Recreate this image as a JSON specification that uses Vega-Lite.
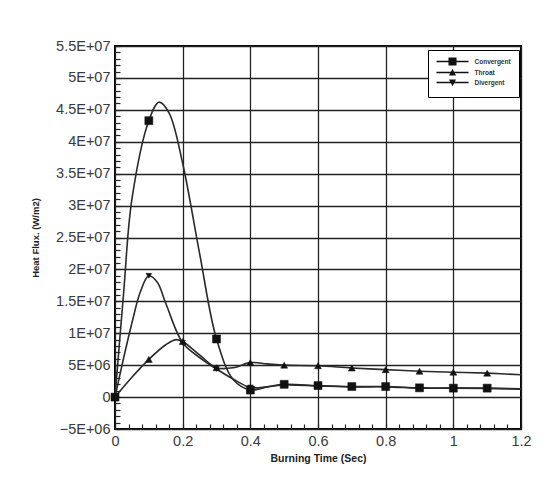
{
  "$schema": "https://vega.github.io/schema/vega-lite/v6.json",
  "width": 406,
  "height": 383,
  "autosize": "none",
  "padding": {"left": 115, "top": 46, "right": 28, "bottom": 74},
  "background": "white",
  "config": {
    "font": "Liberation Sans",
    "view": {"stroke": "#000", "strokeWidth": 2},
    "axis": {"domain": false, "labelColor": "#3a3a3a", "labelFontSize": 14.5, "titleColor": "#222", "titleFontWeight": "bold", "tickColor": "#222", "tickWidth": 1.2, "gridColor": "#222", "gridWidth": 1.3}
  },
  "datasets": {
    "curves": [
      {"series": "Convergent", "t": 0, "q": 0},
      {"series": "Convergent", "t": 0.025, "q": 16000000},
      {"series": "Convergent", "t": 0.05, "q": 31000000},
      {"series": "Convergent", "t": 0.1, "q": 43300000},
      {"series": "Convergent", "t": 0.13, "q": 46200000},
      {"series": "Convergent", "t": 0.16, "q": 44500000},
      {"series": "Convergent", "t": 0.2, "q": 36600000},
      {"series": "Convergent", "t": 0.25, "q": 22500000},
      {"series": "Convergent", "t": 0.3, "q": 9100000},
      {"series": "Convergent", "t": 0.35, "q": 2700000},
      {"series": "Convergent", "t": 0.4, "q": 1100000},
      {"series": "Convergent", "t": 0.45, "q": 1600000},
      {"series": "Convergent", "t": 0.5, "q": 2000000},
      {"series": "Convergent", "t": 0.6, "q": 1800000},
      {"series": "Convergent", "t": 0.7, "q": 1650000},
      {"series": "Convergent", "t": 0.8, "q": 1650000},
      {"series": "Convergent", "t": 0.9, "q": 1450000},
      {"series": "Convergent", "t": 1.0, "q": 1400000},
      {"series": "Convergent", "t": 1.1, "q": 1400000},
      {"series": "Convergent", "t": 1.2, "q": 1300000},
      {"series": "Throat", "t": 0, "q": 0},
      {"series": "Throat", "t": 0.05, "q": 3100000},
      {"series": "Throat", "t": 0.1, "q": 5900000},
      {"series": "Throat", "t": 0.15, "q": 8200000},
      {"series": "Throat", "t": 0.18, "q": 9000000},
      {"series": "Throat", "t": 0.2, "q": 8700000},
      {"series": "Throat", "t": 0.25, "q": 6600000},
      {"series": "Throat", "t": 0.3, "q": 4600000},
      {"series": "Throat", "t": 0.35, "q": 4600000},
      {"series": "Throat", "t": 0.4, "q": 5400000},
      {"series": "Throat", "t": 0.45, "q": 5200000},
      {"series": "Throat", "t": 0.5, "q": 5000000},
      {"series": "Throat", "t": 0.6, "q": 4900000},
      {"series": "Throat", "t": 0.7, "q": 4550000},
      {"series": "Throat", "t": 0.8, "q": 4300000},
      {"series": "Throat", "t": 0.9, "q": 4050000},
      {"series": "Throat", "t": 1.0, "q": 3900000},
      {"series": "Throat", "t": 1.1, "q": 3750000},
      {"series": "Throat", "t": 1.2, "q": 3500000},
      {"series": "Divergent", "t": 0, "q": 0},
      {"series": "Divergent", "t": 0.025, "q": 6000000},
      {"series": "Divergent", "t": 0.05, "q": 11600000},
      {"series": "Divergent", "t": 0.075, "q": 16500000},
      {"series": "Divergent", "t": 0.1, "q": 19000000},
      {"series": "Divergent", "t": 0.125, "q": 18000000},
      {"series": "Divergent", "t": 0.15, "q": 14700000},
      {"series": "Divergent", "t": 0.2, "q": 8500000},
      {"series": "Divergent", "t": 0.25, "q": 6200000},
      {"series": "Divergent", "t": 0.3, "q": 4400000},
      {"series": "Divergent", "t": 0.35, "q": 2800000},
      {"series": "Divergent", "t": 0.4, "q": 1500000},
      {"series": "Divergent", "t": 0.45, "q": 1600000},
      {"series": "Divergent", "t": 0.5, "q": 1900000},
      {"series": "Divergent", "t": 0.6, "q": 1750000},
      {"series": "Divergent", "t": 0.7, "q": 1600000},
      {"series": "Divergent", "t": 0.8, "q": 1600000},
      {"series": "Divergent", "t": 0.9, "q": 1400000},
      {"series": "Divergent", "t": 1.0, "q": 1400000},
      {"series": "Divergent", "t": 1.1, "q": 1350000},
      {"series": "Divergent", "t": 1.2, "q": 1250000}
    ],
    "markers": [
      {"series": "Divergent", "t": 0, "q": 0},
      {"series": "Divergent", "t": 0.1, "q": 19000000},
      {"series": "Divergent", "t": 0.2, "q": 8500000},
      {"series": "Divergent", "t": 0.3, "q": 4400000},
      {"series": "Divergent", "t": 0.4, "q": 1500000},
      {"series": "Divergent", "t": 0.5, "q": 1900000},
      {"series": "Divergent", "t": 0.6, "q": 1750000},
      {"series": "Divergent", "t": 0.7, "q": 1600000},
      {"series": "Divergent", "t": 0.8, "q": 1600000},
      {"series": "Divergent", "t": 0.9, "q": 1400000},
      {"series": "Divergent", "t": 1.0, "q": 1400000},
      {"series": "Divergent", "t": 1.1, "q": 1350000},
      {"series": "Throat", "t": 0, "q": 0},
      {"series": "Throat", "t": 0.1, "q": 5900000},
      {"series": "Throat", "t": 0.2, "q": 8700000},
      {"series": "Throat", "t": 0.3, "q": 4600000},
      {"series": "Throat", "t": 0.4, "q": 5400000},
      {"series": "Throat", "t": 0.5, "q": 5000000},
      {"series": "Throat", "t": 0.6, "q": 4900000},
      {"series": "Throat", "t": 0.7, "q": 4550000},
      {"series": "Throat", "t": 0.8, "q": 4300000},
      {"series": "Throat", "t": 0.9, "q": 4050000},
      {"series": "Throat", "t": 1.0, "q": 3900000},
      {"series": "Throat", "t": 1.1, "q": 3750000},
      {"series": "Convergent", "t": 0, "q": 0},
      {"series": "Convergent", "t": 0.1, "q": 43300000},
      {"series": "Convergent", "t": 0.3, "q": 9100000},
      {"series": "Convergent", "t": 0.4, "q": 1100000},
      {"series": "Convergent", "t": 0.5, "q": 2000000},
      {"series": "Convergent", "t": 0.6, "q": 1800000},
      {"series": "Convergent", "t": 0.7, "q": 1650000},
      {"series": "Convergent", "t": 0.8, "q": 1650000},
      {"series": "Convergent", "t": 0.9, "q": 1450000},
      {"series": "Convergent", "t": 1.0, "q": 1400000},
      {"series": "Convergent", "t": 1.1, "q": 1400000}
    ]
  },
  "encoding": {
    "x": {
      "field": "t", "type": "quantitative",
      "scale": {"domain": [0, 1.2], "nice": false, "zero": false},
      "axis": {
        "title": "Burning Time (Sec)",
        "titleFontSize": 10.5,
        "titlePadding": 6,
        "values": [0,0.04,0.08,0.12,0.16,0.2,0.24,0.28,0.32,0.36,0.4,0.44,0.48,0.52,0.56,0.6,0.64,0.68,0.72,0.76,0.8,0.84,0.88,0.92,0.96,1,1.04,1.08,1.12,1.16,1.2],
        "labelExpr": "abs(datum.value/0.2 - round(datum.value/0.2)) < 0.001 ? format(datum.value, '') : ''",
        "tickSize": -5,
        "labelPadding": 10,
        "labelFlush": false,
        "labelOverlap": false,
        "grid": true,
        "gridOpacity": {"condition": {"test": "abs(datum.value/0.2 - round(datum.value/0.2)) < 0.001", "value": 1}, "value": 0}
      }
    },
    "y": {
      "field": "q", "type": "quantitative",
      "scale": {"domain": [-5000000, 55000000], "nice": false, "zero": false},
      "axis": {
        "title": "Heat Flux. (W/m2)",
        "titleFontSize": 9.5,
        "titlePadding": 15,
        "values": [-5000000,-4000000,-3000000,-2000000,-1000000,0,1000000,2000000,3000000,4000000,5000000,6000000,7000000,8000000,9000000,10000000,11000000,12000000,13000000,14000000,15000000,16000000,17000000,18000000,19000000,20000000,21000000,22000000,23000000,24000000,25000000,26000000,27000000,28000000,29000000,30000000,31000000,32000000,33000000,34000000,35000000,36000000,37000000,38000000,39000000,40000000,41000000,42000000,43000000,44000000,45000000,46000000,47000000,48000000,49000000,50000000,51000000,52000000,53000000,54000000,55000000],
        "labelExpr": "datum.value % 5000000 !== 0 ? '' : (datum.value == 0 ? '0' : (abs(datum.value) >= 10000000 ? format(datum.value/10000000, '') + 'E+07' : format(datum.value/1000000, '') + 'E+06'))",
        "tickSize": -5,
        "labelPadding": 10,
        "labelFlush": false,
        "labelOverlap": false,
        "grid": true,
        "gridOpacity": {"condition": {"test": "datum.value % 5000000 === 0", "value": 1}, "value": 0}
      }
    }
  },
  "layer": [
    {
      "data": {"name": "curves"},
      "mark": {"type": "line", "interpolate": "catmull-rom", "stroke": "#2a2a2a", "strokeWidth": 1.6},
      "encoding": {"detail": {"field": "series"}, "order": {"field": "t", "type": "quantitative"}}
    },
    {
      "data": {"name": "markers"},
      "mark": {"type": "point", "filled": true, "fill": "#111", "stroke": "#111", "strokeWidth": 0.5, "opacity": 1},
      "encoding": {
        "shape": {"field": "series", "type": "nominal", "scale": {"domain": ["Convergent", "Throat", "Divergent"], "range": ["square", "triangle-up", "triangle-down"]}, "legend": null},
        "size": {"field": "series", "type": "nominal", "scale": {"domain": ["Convergent", "Throat", "Divergent"], "range": [64, 32, 32]}, "legend": null}
      }
    },
    {
      "data": {"name": "markers"},
      "mark": {"type": "point", "filled": true, "fill": "#111", "opacity": 0, "size": 36},
      "encoding": {
        "shape": {
          "field": "series", "type": "nominal",
          "scale": {"domain": ["Convergent", "Throat", "Divergent"], "range": ["M-1,-0.27H9.67V0.27H-1ZM3,-1.33H5.67V1.33H3Z", "M-1,-0.27H9.67V0.27H-1ZM4.33,-1.25L5.5,1H3.17Z", "M-1,-0.27H9.67V0.27H-1ZM4.33,1.25L3.17,-1H5.5Z"]},
          "legend": {
            "title": null,
            "orient": "none",
            "legendX": 313,
            "legendY": 4,
            "symbolSize": 36,
            "symbolOpacity": 1,
            "symbolFillColor": "#111",
            "labelFontSize": 6.5,
            "labelColor": "#333",
            "labelFontWeight": "bold",
            "labelOffset": 31,
            "rowPadding": -3.5,
            "padding": 7.5,
            "strokeColor": "#000",
            "fillColor": "#fff"
          }
        }
      }
    }
  ],
  "resolve": {"scale": {"shape": "independent", "size": "independent"}}
}
